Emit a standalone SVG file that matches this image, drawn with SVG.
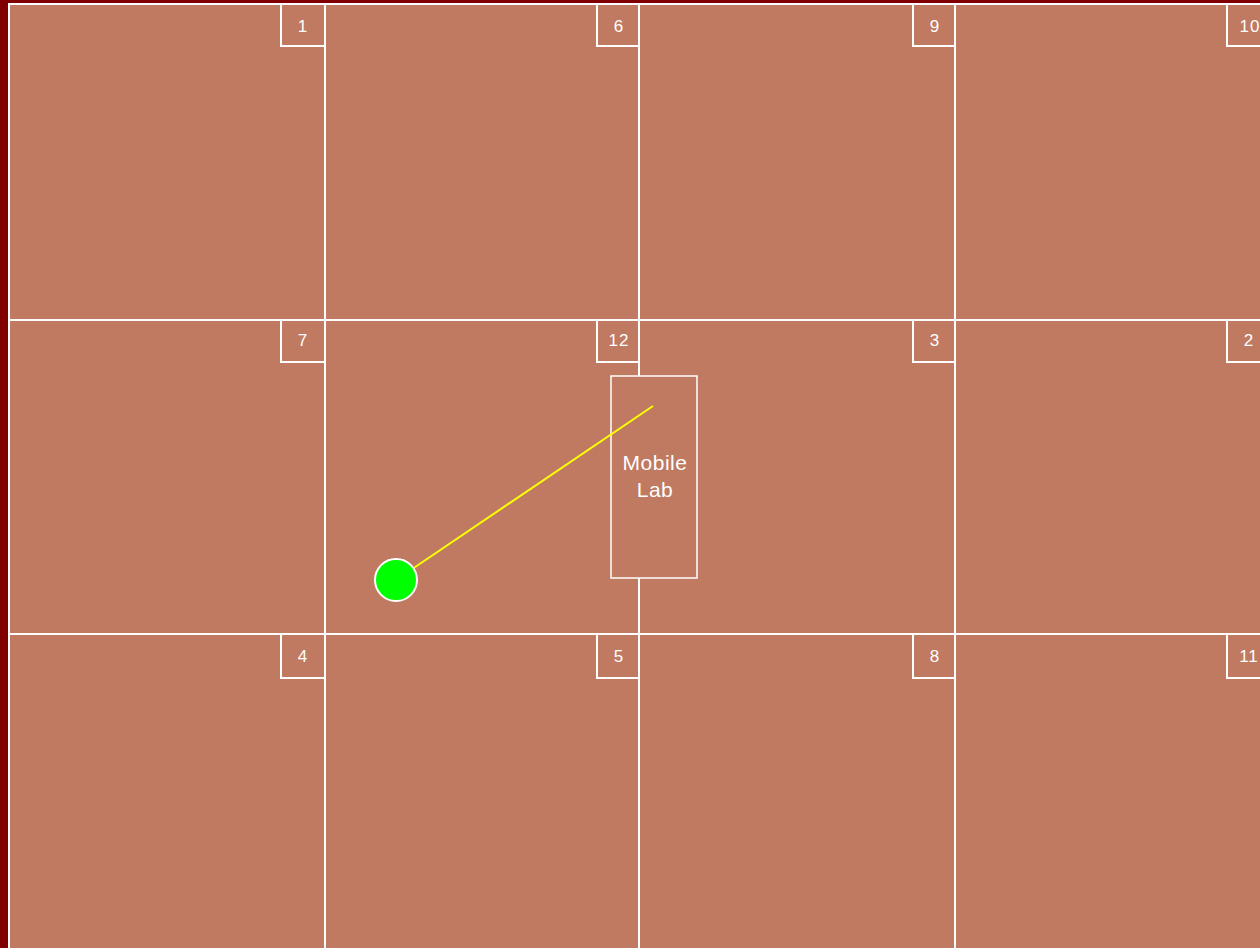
<svg xmlns="http://www.w3.org/2000/svg" width="1260" height="948" viewBox="0 0 1260 948">
<style>
.cell{fill:#bf7a61;stroke:#ffffff;stroke-width:2}
.tag{fill:none;stroke:#ffffff;stroke-width:2}
.num{font-family:"Liberation Sans",Arial,sans-serif;font-size:17px;letter-spacing:1px;fill:#ffffff;text-anchor:middle}
.lab{font-family:"Liberation Sans",Arial,sans-serif;font-size:21px;letter-spacing:0.5px;fill:#ffffff;text-anchor:middle}
</style>
<rect x="0" y="0" width="1260" height="948" fill="#800000"/>
<g id="cell-1"><rect class="cell" x="9" y="4" width="316" height="316"/><rect class="tag" x="281" y="4" width="44" height="42"/><text class="num" x="303" y="32">1</text></g>
<g id="cell-6"><rect class="cell" x="325" y="4" width="314" height="316"/><rect class="tag" x="597" y="4" width="42" height="42"/><text class="num" x="619" y="32">6</text></g>
<g id="cell-9"><rect class="cell" x="639" y="4" width="316" height="316"/><rect class="tag" x="913" y="4" width="42" height="42"/><text class="num" x="935" y="32">9</text></g>
<g id="cell-10"><rect class="cell" x="955" y="4" width="316" height="316"/><rect class="tag" x="1227" y="4" width="44" height="42"/><text class="num" x="1250" y="32">10</text></g>
<g id="cell-7"><rect class="cell" x="9" y="320" width="316" height="314"/><rect class="tag" x="281" y="320" width="44" height="42"/><text class="num" x="303" y="346">7</text></g>
<g id="cell-12"><rect class="cell" x="325" y="320" width="314" height="314"/><rect class="tag" x="597" y="320" width="42" height="42"/><text class="num" x="619" y="346">12</text></g>
<g id="cell-3"><rect class="cell" x="639" y="320" width="316" height="314"/><rect class="tag" x="913" y="320" width="42" height="42"/><text class="num" x="935" y="346">3</text></g>
<g id="cell-2"><rect class="cell" x="955" y="320" width="316" height="314"/><rect class="tag" x="1227" y="320" width="44" height="42"/><text class="num" x="1249" y="346">2</text></g>
<g id="cell-4"><rect class="cell" x="9" y="634" width="316" height="320"/><rect class="tag" x="281" y="634" width="44" height="44"/><text class="num" x="303" y="662">4</text></g>
<g id="cell-5"><rect class="cell" x="325" y="634" width="314" height="320"/><rect class="tag" x="597" y="634" width="42" height="44"/><text class="num" x="619" y="662">5</text></g>
<g id="cell-8"><rect class="cell" x="639" y="634" width="316" height="320"/><rect class="tag" x="913" y="634" width="42" height="44"/><text class="num" x="935" y="662">8</text></g>
<g id="cell-11"><rect class="cell" x="955" y="634" width="316" height="320"/><rect class="tag" x="1227" y="634" width="44" height="44"/><text class="num" x="1249" y="662">11</text></g>
<g id="mobile-lab"><rect x="611" y="376" width="86" height="202" fill="#bf7a61" stroke="#ffffff" stroke-width="1.5"/><text class="lab" x="655" y="470">Mobile</text><text class="lab" x="655" y="497">Lab</text></g>
<g id="connectors"><line x1="396" y1="580" x2="653" y2="406" stroke="#ffff00" stroke-width="2"/></g>
<g id="marker"><circle cx="396" cy="580" r="21" fill="#00ff00" stroke="#ffffff" stroke-width="2"/></g>
</svg>
